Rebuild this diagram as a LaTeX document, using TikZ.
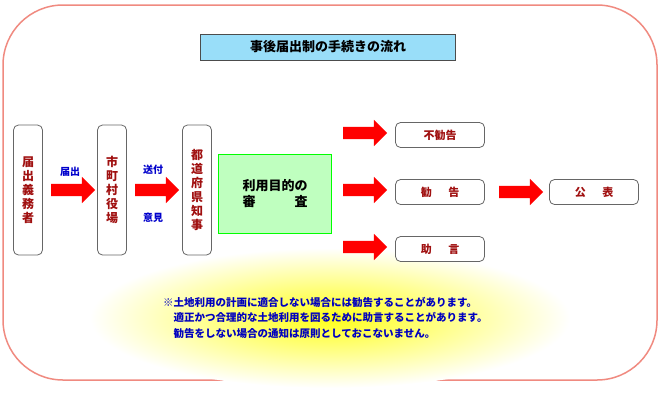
\documentclass[tikz,border=0pt]{standalone}
\usepackage{fontspec}
\setmainfont{Noto Sans CJK JP}
\usetikzlibrary{shapes.arrows, positioning}
\definecolor{boxred}{HTML}{A01010}
\definecolor{framepink}{HTML}{F08A80}

\begin{document}
\begin{tikzpicture}[x=1pt, y=-1pt,
    office/.style={rectangle, rounded corners=5pt, draw=gray!80!black, thick, fill=white, minimum width=29pt, minimum height=130pt, text width=12pt, align=center, text=boxred, font=\bfseries\fontsize{12}{14}\selectfont, inner sep=0pt},
    result/.style={rectangle, rounded corners=5pt, draw=gray!80!black, thick, fill=white, minimum width=89pt, minimum height=25pt, text=boxred, font=\bfseries\fontsize{11}{13}\selectfont},
    push/.style={single arrow, fill=red, draw=none, minimum height=44pt, inner sep=6pt, single arrow head extend=7pt, single arrow tip angle=90},
    tag/.style={text=blue!80!black, font=\bfseries\fontsize{10}{12}\selectfont}
]
\useasboundingbox (0,0) rectangle (660,407);

% Frame
\draw[framepink, line width=1.5pt, fill=white, rounded corners=60pt] (3,5) rectangle (657,380);
\shade[inner color=yellow!90, outer color=white] (330,318) ellipse (240pt and 70pt);

% Title
\node[draw=black!70, fill=cyan!40, minimum width=255pt, minimum height=26pt, font=\bfseries\fontsize{13}{15}\selectfont] (title) at (328,47) {事後届出制の手続きの流れ};

% Offices
\node[office] (duty) at (28,190) {届\\出\\義\\務\\者};
\node[office] (city) at (112,190) {市\\町\\村\\役\\場};
\node[office] (pref) at (197,190) {都\\道\\府\\県\\知\\事};
\node[rectangle, draw=green, line width=1.5pt, fill=green!25, minimum width=113pt, minimum height=79pt, align=center, font=\bfseries\fontsize{13}{16}\selectfont] (check) at (275,194) {利用目的の\\審\hspace{3em}査};

% Arrows between offices
\node[push] (a1) at (70,190) {};
\node[push] (a2) at (154,190) {};
\node[tag] (l1) at (70,172) {届出};
\node[tag] (l2) at (153,170) {送付};
\node[tag] (l3) at (153,218) {意見};

% Results
\node[result] (none) at (440,135) {不勧告};
\node[result] (adv) at (440,192) {勧\hspace{1.5em}告};
\node[result] (help) at (440,249) {助\hspace{1.5em}言};
\node[result] (pub) at (594,192) {公\hspace{1.5em}表};
\node[push] (b1) at (362,133) {};
\node[push] (b2) at (362,190) {};
\node[push] (b3) at (362,247) {};
\node[push] (b4) at (518,192) {};

% Note
\node[anchor=north west, text=blue!75!black, align=left, font=\bfseries\fontsize{10.5}{15.5}\selectfont, inner sep=0pt] (note) at (163,297) {※土地利用の計画に適合しない場合には勧告することがあります。\\
\hspace{1em}適正かつ合理的な土地利用を図るために助言することがあります。\\
\hspace{1em}勧告をしない場合の通知は原則としておこないません。};

\end{tikzpicture}
\end{document}
